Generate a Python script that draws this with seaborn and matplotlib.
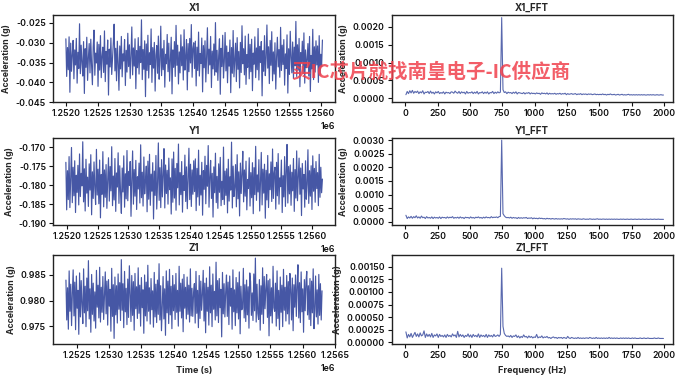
import numpy as np
import matplotlib
matplotlib.use('Agg')
import matplotlib.pyplot as plt
import matplotlib.ticker as mticker
import seaborn as sns

# time-domain samples, in milli-g
x1_mg = [
    -29.0, -38.5, -31.2, -36.8, -28.5, -42.5, -30.1, -37.2, -33.0, -29.4,
    -39.1, -31.8, -35.6, -28.9, -40.2, -32.4, -36.5, -25.2, -37.8, -30.6,
    -34.9, -38.4, -29.7, -42.8, -31.5, -36.2, -28.6, -39.5, -33.8, -30.2,
    -37.6, -29.1, -35.8, -40.6, -31.0, -26.8, -38.2, -32.6, -35.1, -29.8,
    -41.0, -30.4, -36.9, -28.2, -38.8, -33.4, -31.1, -37.5, -27.0, -39.8,
    -32.2, -35.4, -29.3, -43.2, -31.6, -36.1, -28.8, -38.0, -34.2, -30.0,
    -25.3, -37.1, -31.4, -39.6, -29.6, -35.2, -42.0, -30.8, -36.6, -28.4,
    -38.6, -32.8, -34.6, -29.2, -40.8, -31.9, -37.4, -27.6, -36.0, -30.5,
    -39.0, -33.2, -26.0, -38.1, -31.3, -35.9, -29.0, -41.6, -32.0, -36.3,
    -28.7, -37.9, -30.9, -35.0, -24.2, -39.3, -31.7, -36.7, -29.5, -43.6,
    -30.3, -37.0, -28.1, -38.9, -32.5, -35.5, -26.5, -40.0, -31.2, -36.4,
    -29.9, -42.2, -33.1, -30.7, -37.7, -28.3, -39.2, -34.4, -25.8, -38.3,
    -31.5, -36.8, -29.4, -41.2, -32.9, -35.3, -27.9, -37.3, -30.1, -39.7,
    -34.0, -28.6, -42.9, -31.8, -36.2, -29.7, -38.5, -25.6, -35.7, -30.6,
    -40.4, -32.3, -37.6, -28.0, -35.8, -31.0, -39.4, -26.7, -36.9, -33.6,
    -29.2, -41.9, -30.2, -37.3, -28.9, -35.1, -25.4, -38.7, -31.4, -30.0,
    -36.5, -29.6, -40.9, -31.1, -37.0, -27.3, -38.4, -32.7, -35.2, -28.8,
    -42.4, -30.7, -36.3, -29.5, -39.9, -33.5, -26.2, -37.8, -31.6, -35.6,
    -28.4, -41.3, -32.1, -36.6, -30.3, -38.2, -24.9, -37.4, -31.9, -39.5,
    -33.3, -29.0, -43.0, -31.4, -36.0, -28.1, -38.9, -34.8, -27.4, -37.1,
    -30.8, -40.1, -32.4, -35.9, -29.3, -42.6, -31.2, -37.7, -26.9, -38.6,
    -34.5, -30.1, -39.8, -28.7, -36.7, -32.2, -41.4, -29.9, -37.5, -25.7,
    -35.3, -31.5, -38.1, -28.3, -40.5, -33.0, -36.2, -27.8, -39.1, -30.4,
    -37.3, -29.1, -42.1, -32.6, -35.4, -28.5, -38.8, -31.3, -36.8, -26.4,
    -39.4, -30.9, -35.0, -29.7, -43.4, -32.0, -37.2, -28.2, -38.3, -33.9,
    -25.5, -36.4, -31.0, -40.3, -29.4, -35.7, -27.2, -39.6, -32.3, -37.9,
    -30.0, -41.7, -33.7, -28.6, -36.1, -31.7, -38.7, -26.1, -37.0, -30.6,
    -35.5, -29.2, -40.7, -32.8, -36.5, -28.0, -42.7, -31.5, -38.0, -27.1,
    -33.6, -37.6, -29.8, -39.0, -31.1, -35.8, -24.6, -38.5, -30.5, -36.9,
    -28.9, -41.1, -32.5, -35.1, -29.6, -37.8, -27.5, -40.2, -31.8, -36.3,
    -34.3, -30.2, -38.4, -28.4, -42.3, -33.2, -36.6, -26.6, -39.3, -31.0,
    -37.4, -29.5, -35.6, -30.8, -40.0, -28.2, -38.2, -32.9, -36.0, -29.3,
]
y1_mg = [
    -174.0, -186.5, -176.2, -183.8, -172.5, -185.9, -178.0, -170.1, -184.6, -175.3,
    -182.8, -173.6, -187.2, -177.4, -181.9, -174.8, -185.2, -171.8, -183.0, -176.9,
    -180.2, -168.6, -184.4, -175.7, -186.8, -173.2, -182.1, -177.9, -185.6, -174.4,
    -181.3, -172.0, -187.8, -176.5, -183.5, -173.9, -180.8, -185.1, -170.6, -182.6,
    -175.8, -184.9, -173.4, -188.6, -177.2, -182.4, -171.2, -185.7, -176.0, -183.2,
    -174.6, -186.1, -178.6, -172.8, -184.2, -175.1, -181.5, -169.9, -185.4, -177.6,
    -183.9, -173.0, -186.9, -176.8, -180.5, -171.5, -184.8, -174.9, -182.0, -187.4,
    -175.5, -181.8, -172.3, -185.8, -177.0, -183.6, -170.9, -184.1, -176.4, -180.1,
    -173.8, -188.2, -178.3, -171.0, -185.0, -175.9, -182.9, -173.5, -186.4, -177.8,
    -181.0, -174.2, -184.7, -169.4, -183.3, -176.6, -185.5, -172.6, -182.3, -178.9,
    -175.0, -187.0, -173.7, -183.7, -171.9, -185.3, -177.1, -181.6, -174.1, -188.9,
    -176.3, -182.7, -172.2, -186.3, -179.4, -168.9, -184.0, -175.4, -185.9, -173.3,
    -183.1, -177.3, -170.4, -186.0, -174.7, -182.2, -176.1, -185.0, -172.9, -181.2,
    -178.1, -187.6, -173.1, -184.5, -171.3, -183.4, -175.6, -186.6, -174.3, -180.7,
    -169.2, -185.2, -176.7, -182.5, -173.8, -187.1, -177.5, -181.4, -172.1, -184.3,
    -175.2, -186.2, -178.2, -170.3, -183.8, -174.5, -185.6, -176.0, -182.4, -173.6,
    -181.7, -173.1, -186.7, -175.6, -183.1, -170.8, -185.3, -177.4, -182.6, -174.0,
    -187.9, -176.2, -181.1, -172.4, -184.9, -174.8, -180.3, -169.6, -185.8, -178.0,
    -173.5, -183.5, -176.9, -188.4, -175.2, -182.0, -171.6, -184.6, -177.7, -186.1,
    -174.4, -181.9, -172.7, -185.4, -179.0, -183.8, -170.0, -185.1, -176.3, -182.7,
    -175.7, -187.3, -173.2, -184.2, -177.8, -181.3, -168.7, -186.0, -175.0, -183.0,
    -180.6, -174.6, -185.7, -172.0, -183.6, -176.5, -188.1, -174.2, -182.2, -177.1,
    -171.1, -184.4, -176.0, -182.9, -173.7, -186.5, -178.5, -180.9, -172.8, -185.5,
    -176.7, -183.3, -174.1, -187.5, -175.4, -182.5, -169.8, -184.0, -177.3, -181.8,
    -173.3, -186.8, -178.8, -171.4, -185.2, -175.8, -182.1, -174.5, -188.7, -176.1,
    -183.9, -172.2, -185.9, -177.0, -181.2, -173.9, -184.3, -170.5, -183.5, -176.8,
    -175.3, -186.3, -174.0, -182.8, -171.7, -185.0, -178.1, -180.4, -173.4, -187.2,
    -177.5, -183.1, -172.5, -185.6, -176.4, -169.3, -184.7, -175.1, -182.3, -174.7,
    -185.3, -176.6, -181.5, -173.0, -186.9, -175.9, -183.4, -171.0, -184.1, -177.9,
    -172.9, -182.4, -175.5, -188.0, -174.3, -181.0, -177.2, -185.8, -173.6, -183.7,
    -179.8, -170.7, -184.8, -176.2, -182.9, -174.9, -186.4, -172.3, -181.6, -175.6,
    -184.5, -173.8, -180.9, -176.7, -185.4, -171.9, -183.2, -175.3, -182.0, -178.4,
]
z1_mg = [
    984.0, 976.2, 982.5, 974.4, 985.8, 977.9, 983.2, 975.1, 981.4, 986.0,
    977.0, 983.6, 974.3, 984.8, 978.5, 982.0, 973.4, 985.4, 976.8, 983.9,
    979.3, 975.5, 986.2, 977.6, 982.8, 974.9, 984.4, 978.0, 987.8, 976.4,
    982.3, 973.8, 985.1, 977.3, 983.4, 976.0, 981.7, 974.6, 985.9, 978.7,
    983.0, 976.6, 986.5, 975.8, 982.6, 977.7, 984.7, 976.3, 981.0, 985.6,
    977.4, 983.8, 975.2, 984.1, 978.9, 982.2, 974.0, 986.3, 976.9, 983.1,
    972.6, 984.6, 977.2, 982.9, 975.6, 985.2, 978.3, 983.5, 976.1, 988.0,
    978.1, 983.3, 974.7, 985.7, 977.8, 982.4, 975.3, 984.2, 976.7, 986.8,
    981.6, 975.9, 984.9, 977.1, 983.7, 974.2, 985.3, 978.4, 982.7, 976.5,
    986.4, 977.5, 983.0, 975.0, 984.5, 978.6, 982.1, 973.6, 985.0, 977.0,
    983.6, 976.0, 986.9, 977.9, 982.5, 975.4, 984.3, 978.2, 981.9, 974.8,
    985.5, 976.8, 983.2, 975.7, 984.0, 977.3, 987.2, 976.2, 982.9, 974.1,
    978.8, 984.7, 976.4, 982.3, 973.2, 985.8, 977.6, 983.8, 975.5, 986.1,
    977.2, 982.8, 974.5, 984.9, 978.0, 983.1, 976.3, 985.3, 977.7, 982.0,
    975.0, 986.7, 977.9, 983.4, 976.6, 984.2, 973.9, 985.1, 978.5, 982.6,
    976.4, 984.6, 977.3, 983.0, 975.8, 986.2, 977.0, 982.4, 976.9, 981.5,
    983.3, 975.6, 985.7, 977.5, 982.0, 974.7, 984.9, 976.5, 983.8, 978.1,
    981.2, 985.9, 976.0, 983.4, 973.7, 984.4, 977.9, 982.6, 975.2, 986.6,
    977.6, 983.0, 974.9, 985.2, 978.3, 981.8, 976.2, 987.5, 977.0, 983.9,
    975.7, 984.3, 978.6, 982.2, 972.9, 985.5, 977.4, 983.3, 976.8, 981.7,
    985.0, 976.9, 983.6, 975.3, 984.8, 978.9, 982.4, 974.4, 986.0, 977.8,
    982.1, 975.1, 984.5, 977.6, 983.5, 976.4, 985.6, 973.5, 982.8, 978.2,
    978.5, 986.3, 976.6, 983.1, 975.9, 984.0, 977.2, 982.7, 974.6, 985.4,
    983.7, 977.1, 981.5, 976.1, 985.2, 978.0, 988.3, 975.8, 983.2, 977.5,
    976.3, 984.1, 974.2, 982.9, 977.3, 986.4, 975.5, 984.7, 978.4, 982.3,
    985.1, 976.7, 983.9, 973.1, 984.2, 977.0, 982.5, 975.6, 986.7, 978.6,
    977.9, 983.4, 975.0, 985.8, 976.5, 982.0, 974.3, 984.6, 977.7, 983.0,
    974.9, 986.1, 978.1, 982.6, 976.0, 984.9, 977.4, 983.7, 975.4, 985.3,
    982.2, 976.2, 984.4, 974.1, 983.1, 978.7, 985.0, 976.9, 982.8, 987.0,
    976.6, 983.5, 975.7, 985.6, 977.8, 982.3, 973.8, 984.1, 978.0, 983.6,
    985.7, 977.2, 982.9, 976.3, 984.3, 975.1, 983.8, 977.6, 986.2, 974.5,
    978.3, 984.8, 976.8, 982.1, 975.4, 985.1, 977.1, 983.3, 976.2, 981.9,
]
# first / last timestamp of each channel (s)
x1_t = (1.25200e6, 1.25603e6)
y1_t = (1.25198e6, 1.25617e6)
z1_t = (1.25233e6, 1.25630e6)

# FFT magnitudes in units of 1e-5 g, bins every 10 Hz starting at 5 Hz
fft_f0, fft_df = 5, 10
x1_fft = [
    10, 19, 13, 21, 15, 22, 14, 19, 16, 20,
    13, 18, 15, 21, 12, 17, 16, 19, 13, 20,
    14, 17, 12, 18, 15, 19, 13, 16, 14, 18,
    12, 17, 15, 16, 13, 18, 17, 14, 20, 16,
    14, 19, 13, 18, 15, 17, 12, 19, 14, 16,
    15, 18, 13, 17, 14, 19, 12, 16, 15, 18,
    13, 17, 14, 18, 12, 16, 15, 19, 13, 17,
    14, 18, 15, 17, 226, 24, 16, 18, 13, 17,
    15, 16, 13, 17, 14, 18, 12, 16, 15, 14,
    13, 16, 12, 15, 14, 16, 12, 15, 13, 14,
    12, 15, 13, 14, 11, 15, 13, 14, 12, 15,
    11, 14, 12, 13, 12, 14, 11, 13, 12, 14,
    11, 13, 12, 14, 10, 13, 11, 12, 13, 11,
    12, 13, 10, 12, 11, 13, 10, 12, 11, 12,
    10, 12, 11, 12, 10, 11, 12, 10, 11, 10,
    11, 10, 12, 10, 11, 9, 11, 10, 12, 10,
    10, 11, 9, 10, 11, 9, 10, 11, 9, 10,
    9, 10, 11, 9, 10, 9, 10, 9, 10, 9,
    10, 9, 10, 9, 10, 9, 9, 10, 9, 10,
    9, 10, 9, 9, 10, 9, 9, 10, 9, 9,
]
y1_fft = [
    24, 12, 18, 14, 20, 13, 19, 15, 22, 14,
    18, 13, 21, 15, 17, 12, 19, 14, 16, 13,
    18, 12, 17, 14, 16, 13, 18, 12, 17, 15,
    16, 13, 18, 14, 17, 15, 19, 13, 16, 14,
    17, 13, 18, 14, 16, 12, 17, 15, 16, 13,
    18, 14, 16, 13, 17, 15, 18, 14, 16, 13,
    17, 14, 18, 15, 16, 14, 19, 15, 17, 16,
    18, 15, 19, 20, 300, 30, 22, 17, 15, 16,
    14, 17, 13, 16, 14, 15, 12, 16, 13, 15,
    13, 15, 14, 16, 12, 14, 13, 15, 11, 14,
    12, 13, 11, 14, 12, 13, 11, 12, 10, 13,
    11, 12, 10, 12, 11, 10, 12, 10, 11, 10,
    11, 10, 12, 11, 10, 11, 9, 11, 10, 11,
    10, 11, 9, 11, 10, 10, 9, 11, 10, 9,
    10, 9, 11, 10, 9, 10, 9, 10, 11, 9,
    10, 9, 10, 10, 9, 10, 9, 10, 9, 10,
    9, 10, 9, 10, 9, 9, 10, 9, 10, 9,
    9, 10, 9, 9, 10, 9, 9, 10, 9, 9,
    10, 9, 9, 10, 9, 9, 10, 9, 9, 10,
    9, 9, 10, 9, 9, 10, 9, 9, 9, 9,
]
z1_fft = [
    21, 9, 16, 11, 18, 10, 15, 20, 12, 17,
    11, 19, 13, 15, 23, 10, 17, 12, 16, 11,
    18, 10, 15, 13, 17, 10, 16, 12, 14, 11,
    15, 10, 16, 12, 14, 11, 17, 13, 15, 10,
    22, 11, 16, 12, 15, 10, 14, 12, 17, 11,
    15, 10, 16, 12, 14, 11, 17, 10, 15, 12,
    14, 11, 16, 10, 15, 12, 14, 11, 16, 12,
    13, 15, 12, 16, 147, 32, 18, 14, 12, 13,
    11, 14, 10, 13, 12, 15, 10, 13, 9, 12,
    10, 15, 11, 12, 9, 13, 10, 12, 9, 11,
    10, 16, 9, 11, 10, 13, 9, 11, 10, 12,
    9, 10, 8, 10, 11, 9, 10, 8, 10, 9,
    10, 8, 10, 9, 8, 12, 9, 8, 10, 9,
    8, 9, 8, 10, 8, 9, 8, 9, 8, 9,
    9, 8, 10, 9, 8, 9, 8, 10, 8, 9,
    8, 9, 8, 9, 8, 9, 8, 10, 8, 9,
    8, 9, 8, 9, 8, 8, 9, 8, 9, 8,
    9, 8, 9, 8, 8, 9, 8, 9, 8, 8,
    8, 9, 8, 8, 9, 8, 8, 9, 8, 8,
    8, 8, 9, 8, 8, 9, 8, 8, 8, 8,
]

titles = ['X1', 'Y1', 'Z1']
time_data = [x1_mg, y1_mg, z1_mg]
time_spans = [x1_t, y1_t, z1_t]
fft_data = [x1_fft, y1_fft, z1_fft]

time_ylims = [(-0.0450, -0.0230), (-0.1905, -0.1676), (0.9715, 0.9889)]
time_yticks = [np.arange(-0.045, -0.0249, 0.005), np.arange(-0.190, -0.1699, 0.005),
               [0.975, 0.980, 0.985]]
time_xticks = [np.arange(1.2520e6, 1.25601e6, 500), np.arange(1.2520e6, 1.25601e6, 500),
               np.arange(1.2525e6, 1.25651e6, 500)]
time_xlims = [None, None, (1.25213e6, 1.256505e6)]
fft_ylims = [(-0.00011, 0.00233), (-0.00012, 0.00308), (-0.00003, 0.00173)]
fft_ticks = [np.arange(0, 0.00201, 0.0005), np.arange(0, 0.00301, 0.0005),
             np.arange(0, 0.00151, 0.00025)]
fft_fmt = ['%.4f', '%.4f', '%.5f']

sns.set_style('white')
plt.rcParams['font.family'] = ['Inter', 'DejaVu Sans']
plt.rcParams['font.size'] = 6.5
plt.rcParams['axes.linewidth'] = 1.0
plt.rcParams['axes.edgecolor'] = '#222222'
plt.rcParams['axes.unicode_minus'] = False

line_color = '#3c4ea0'
fig = plt.figure(figsize=(6.8, 3.77), dpi=100)

rows_bottom = [0.729, 0.403, 0.0875]
rows_height = [0.231, 0.231, 0.236]


def style_axes(ax, title, xlabel=None):
    ax.set_title(title, fontsize=7, fontweight='bold', pad=3)
    ax.set_ylabel('Acceleration (g)', fontsize=6.3, fontweight='bold', labelpad=3)
    ax.tick_params(labelsize=6.3, length=3, width=0.8, pad=2, direction='out',
                   bottom=True, left=True, colors='#111111')
    for lab in ax.get_xticklabels() + ax.get_yticklabels():
        lab.set_fontweight('semibold')
    if xlabel:
        ax.set_xlabel(xlabel, fontsize=6.5, fontweight='bold')


for i in range(3):
    # time domain
    ax = fig.add_axes([0.078, rows_bottom[i], 0.415, rows_height[i]])
    vals = np.array(time_data[i]) / 1000.0
    t = np.linspace(time_spans[i][0], time_spans[i][1], len(vals))
    sns.lineplot(x=t, y=vals, ax=ax, color=line_color, lw=0.85, alpha=0.95)
    ax.set_ylim(*time_ylims[i])
    ax.set_yticks(time_yticks[i])
    ax.yaxis.set_major_formatter(mticker.FormatStrFormatter('%.3f'))
    ax.set_xticks(time_xticks[i])
    if time_xlims[i]:
        ax.set_xlim(*time_xlims[i])
    ax.xaxis.get_offset_text().set_fontsize(6.3)
    ax.xaxis.get_offset_text().set_fontweight('semibold')
    style_axes(ax, titles[i], 'Time (s)' if i == 2 else None)

    # frequency domain
    ax2 = fig.add_axes([0.576, rows_bottom[i], 0.413, rows_height[i]])
    mag = np.array(fft_data[i]) * 1e-5
    f = fft_f0 + fft_df * np.arange(len(mag))
    sns.lineplot(x=f, y=mag, ax=ax2, color=line_color, lw=0.8, alpha=0.85)
    ax2.set_ylim(*fft_ylims[i])
    ax2.set_xlim(-105, 2065)
    ax2.set_xticks(np.arange(0, 2001, 250))
    ax2.set_yticks(fft_ticks[i])
    ax2.yaxis.set_major_formatter(mticker.FormatStrFormatter(fft_fmt[i]))
    style_axes(ax2, titles[i] + '_FFT', 'Frequency (Hz)' if i == 2 else None)

# watermark across the top row
fig.text(0.633, 0.809, '买IC芯片就找南皇电子-IC供应商',
         family=['Noto Sans CJK SC', 'DejaVu Sans'], fontsize=14,
         fontweight='bold', color='#f0404c', alpha=0.85,
         ha='center', va='center', zorder=10)

fig.savefig('out.png', dpi=100)
